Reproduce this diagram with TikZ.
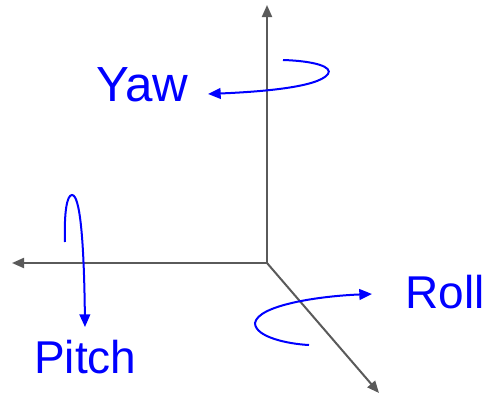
\documentclass[tikz,border=0pt]{standalone}
\usepackage{fontspec}
\setmainfont{Liberation Sans}
\usepackage{tikz}
\usetikzlibrary{arrows.meta, positioning, calc}
\definecolor{axisgray}{RGB}{90,90,90}
\definecolor{rotblue}{RGB}{0,0,255}
\tikzset{
  axis/.style={-{Triangle[length=9pt, width=7.5pt]}, line width=1.5pt, color=axisgray},
  rot/.style={-{Triangle[length=9.5pt, width=8pt]}, line width=1.5pt, color=rotblue},
  lbl/.style={font=\fontsize{34.5pt}{34.5pt}\selectfont, color=rotblue, inner sep=0pt, anchor=base west}
}
\begin{document}
\begin{tikzpicture}[x=0.75pt, y=-0.75pt]
\useasboundingbox (0,0) rectangle (485,396);
%--- axes ---
\coordinate (o)  at (267,263);
\coordinate (up) at (267,5);
\coordinate (lt) at (12,263);
\coordinate (dg) at (379,393);
\draw[axis] (o) -- (up);
\draw[axis] (o) -- (lt);
\draw[axis] (o) -- (dg);

%--- labels ---
\node[lbl, font=\fontsize{37pt}{37pt}\selectfont] (yaw) at (96,101) {Yaw};
\node[lbl] (roll)  at (405,308) {Roll};
\node[lbl] (pitch) at (34,373)  {Pitch};

%--- rotation arrows ---
\coordinate (yawS) at (283,60);
\coordinate (yawE) at (208,94);
\draw[rot] (yawS) .. controls (315,61) and (333,67) .. (328,74)
  .. controls (318,88) and (255,92) .. (yawE);
\coordinate (pitchS) at (65,242);
\coordinate (pitchE) at (85,327);
\draw[rot] (pitchS) .. controls (64,212) and (67,195) .. (72,195)
  .. controls (80,195) and (84,240) .. (pitchE);
\coordinate (rollS) at (309,345);
\coordinate (rollE) at (372,294);
\draw[rot] (rollS) .. controls (288,344) and (255,337) .. (255,323)
  .. controls (258,305) and (320,296) .. (rollE);
\end{tikzpicture}
\end{document}
